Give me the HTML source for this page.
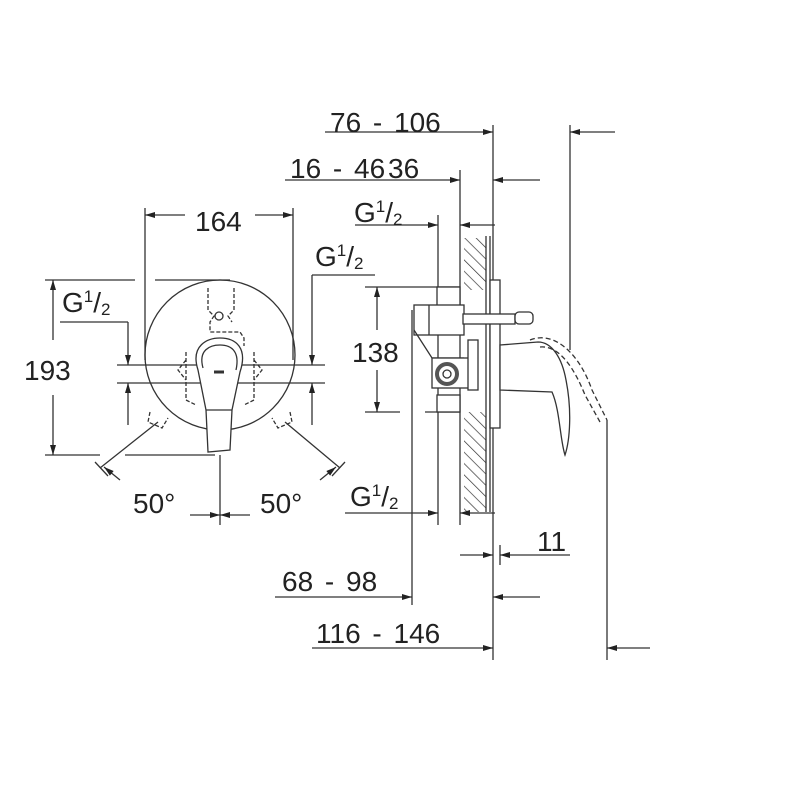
<!DOCTYPE html>
<html><head><style>
html,body{margin:0;padding:0;background:#fff}
svg{display:block}
text{font-family:"Liberation Sans",sans-serif;fill:#222;word-spacing:4px}
</style></head><body>
<svg width="800" height="800" viewBox="0 0 800 800" xmlns="http://www.w3.org/2000/svg">
<defs>
<marker id="a" viewBox="0 0 10 6" refX="10" refY="3" markerWidth="12" markerHeight="6" orient="auto" markerUnits="userSpaceOnUse">
<path d="M0,0 L10,3 L0,6 Z" fill="#222"/></marker>
<pattern id="h" width="8" height="8" patternUnits="userSpaceOnUse" patternTransform="rotate(-45)">
<line x1="0" y1="0" x2="0" y2="8" stroke="#333" stroke-width="1.4"/></pattern>
</defs>
<g stroke="#333" stroke-width="1.3" fill="none">
<line x1="145" y1="208" x2="145" y2="360"/>
<line x1="293" y1="208" x2="293" y2="360"/>
<line x1="185" y1="215" x2="145" y2="215" marker-end="url(#a)"/>
<line x1="255" y1="215" x2="293" y2="215" marker-end="url(#a)"/>
<circle cx="220" cy="355" r="75"/>
<line x1="45" y1="280" x2="135" y2="280"/><line x1="155" y1="280" x2="230" y2="280"/>
<line x1="45" y1="455" x2="100" y2="455"/><line x1="125" y1="455" x2="215" y2="455"/>
<line x1="53" y1="340" x2="53" y2="280" marker-end="url(#a)"/>
<line x1="53" y1="395" x2="53" y2="455" marker-end="url(#a)"/>
<line x1="60" y1="322" x2="128" y2="322"/>
<line x1="128" y1="322" x2="128" y2="365" marker-end="url(#a)"/>
<line x1="128" y1="425" x2="128" y2="383" marker-end="url(#a)"/>
<line x1="117" y1="365" x2="325" y2="365"/>
<line x1="117" y1="383" x2="325" y2="383"/>
<line x1="312" y1="275" x2="375" y2="275"/>
<line x1="312" y1="275" x2="312" y2="365" marker-end="url(#a)"/>
<line x1="312" y1="425" x2="312" y2="383" marker-end="url(#a)"/>
<path d="M208,288 L208,310 L214,316 L210,322 L210,332 L240,332 L244,338 L244,346 M234,288 L234,310 L228,316 L232,322" stroke-dasharray="4,2"/>
<circle cx="219" cy="316" r="4"/>
<path d="M186,352 L186,400 L196,405 M254,352 L254,400 L244,405 M186,360 L178,370 L186,380 M254,360 L262,370 L254,380" stroke-dasharray="4,2"/>
<path d="M150,412 L148,422 L162,428 L168,418 M290,412 L292,422 L278,428 L272,418" stroke-dasharray="4,2"/>
<path d="M198,370 C190,345 208,338 220,338 C236,338 248,348 240,372 L232,410 L230,450 L208,452 L206,410 Z" fill="#fff"/>
<path d="M203,368 C198,350 210,345 220,345 C232,345 240,352 236,370" />
<line x1="214" y1="372" x2="224" y2="372" stroke-width="3"/>
<line x1="206" y1="410" x2="232" y2="410"/>
<line x1="100" y1="468" x2="158" y2="422"/>
<line x1="340" y1="468" x2="285" y2="422"/>
<line x1="95" y1="462" x2="108" y2="476"/><line x1="345" y1="462" x2="332" y2="476"/>
<line x1="120" y1="480" x2="104" y2="467" marker-end="url(#a)"/>
<line x1="320" y1="480" x2="336" y2="467" marker-end="url(#a)"/>
<line x1="220" y1="455" x2="220" y2="525"/>
<line x1="190" y1="515" x2="220" y2="515" marker-end="url(#a)"/>
<line x1="250" y1="515" x2="220" y2="515" marker-end="url(#a)"/>

<line x1="325" y1="132" x2="493" y2="132" marker-end="url(#a)"/>
<line x1="615" y1="132" x2="570" y2="132" marker-end="url(#a)"/>
<line x1="493" y1="125" x2="493" y2="660"/>
<line x1="570" y1="125" x2="570" y2="350"/>
<line x1="607" y1="420" x2="607" y2="660"/>
<line x1="650" y1="648" x2="607" y2="648" marker-end="url(#a)"/>
<line x1="285" y1="180" x2="460" y2="180" marker-end="url(#a)"/>
<line x1="540" y1="180" x2="493" y2="180" marker-end="url(#a)"/>
<line x1="460" y1="170" x2="460" y2="525"/>
<line x1="355" y1="225" x2="438" y2="225" marker-end="url(#a)"/>
<line x1="495" y1="225" x2="460" y2="225" marker-end="url(#a)"/>
<line x1="438" y1="215" x2="438" y2="525"/>
<line x1="412" y1="310" x2="412" y2="605"/>
<rect x="464" y="238" width="22" height="52" fill="url(#h)" stroke="none"/>
<rect x="464" y="412" width="22" height="100" fill="url(#h)" stroke="none"/>
<line x1="486" y1="236" x2="486" y2="512"/>
<line x1="490" y1="236" x2="490" y2="512"/>
<rect x="490" y="280" width="10" height="148" fill="#fff"/>
<line x1="365" y1="287" x2="460" y2="287"/>
<line x1="365" y1="412" x2="400" y2="412"/><line x1="425" y1="412" x2="460" y2="412"/>
<line x1="377" y1="330" x2="377" y2="287" marker-end="url(#a)"/>
<line x1="377" y1="370" x2="377" y2="412" marker-end="url(#a)"/>
<rect x="437" y="287" width="23" height="25" fill="#fff"/>
<rect x="414" y="305" width="50" height="30" fill="#fff"/>
<line x1="429" y1="305" x2="429" y2="335"/>
<path d="M414,330 L432,358 L464,358"/>
<rect x="432" y="358" width="40" height="30" fill="#fff"/>
<circle cx="447" cy="374" r="10" stroke-width="4" stroke="#555"/>
<circle cx="447" cy="374" r="4"/>
<rect x="437" y="395" width="23" height="17" fill="#fff"/>
<rect x="468" y="340" width="10" height="50" fill="#fff"/>
<rect x="463" y="314" width="52" height="10" fill="#fff"/>
<rect x="515" y="312" width="18" height="12" rx="4" fill="#fff"/>
<path d="M500,345 L538,342 C552,342 562,358 566,380 C572,410 570,440 565,455 C560,440 560,410 552,392 L500,390 Z" fill="#fff"/>
<path d="M530,340 C555,330 580,355 592,390 L607,420 M540,347 C560,345 575,370 585,395 L600,422" stroke-dasharray="5,3"/>
<line x1="345" y1="513" x2="438" y2="513" marker-end="url(#a)"/>
<line x1="495" y1="513" x2="460" y2="513" marker-end="url(#a)"/>
<line x1="570" y1="555" x2="500" y2="555" marker-end="url(#a)"/>
<line x1="460" y1="555" x2="493" y2="555" marker-end="url(#a)"/>
<line x1="500" y1="545" x2="500" y2="565"/>
<line x1="275" y1="597" x2="412" y2="597" marker-end="url(#a)"/>
<line x1="540" y1="597" x2="493" y2="597" marker-end="url(#a)"/>
<line x1="312" y1="648" x2="493" y2="648" marker-end="url(#a)"/>
</g>
<g font-size="28">
<text x="330" y="132">76 - 106</text>
<text x="290" y="178">16 - 46</text>
<text x="388" y="178">36</text>
<text x="354" y="222">G<tspan font-size="17" dy="-10">1</tspan><tspan dy="10">/</tspan><tspan font-size="17" dy="3">2</tspan></text>
<text x="195" y="231">164</text>
<text x="315" y="266">G<tspan font-size="17" dy="-10">1</tspan><tspan dy="10">/</tspan><tspan font-size="17" dy="3">2</tspan></text>
<text x="62" y="312">G<tspan font-size="17" dy="-10">1</tspan><tspan dy="10">/</tspan><tspan font-size="17" dy="3">2</tspan></text>
<text x="24" y="380">193</text>
<text x="352" y="362">138</text>
<text x="133" y="513">50°</text>
<text x="260" y="513">50°</text>
<text x="350" y="506">G<tspan font-size="17" dy="-10">1</tspan><tspan dy="10">/</tspan><tspan font-size="17" dy="3">2</tspan></text>
<text x="537" y="551">11</text>
<text x="282" y="591">68 - 98</text>
<text x="316" y="643">116 - 146</text>
</g>
</svg>
</body></html>
